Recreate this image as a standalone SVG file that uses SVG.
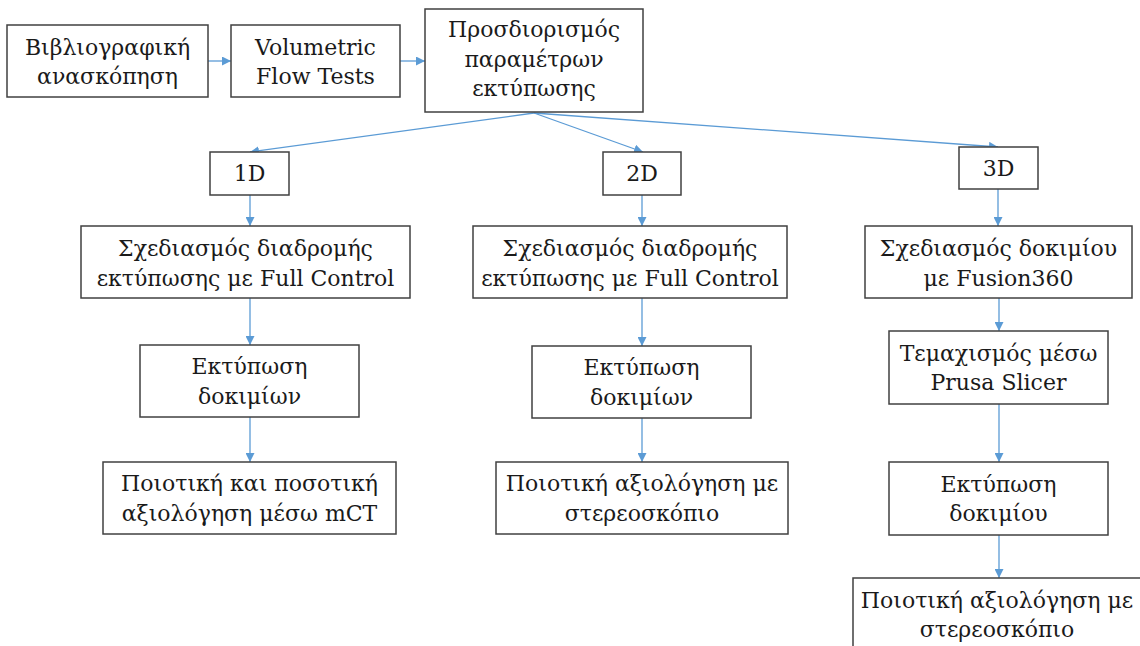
<svg xmlns="http://www.w3.org/2000/svg" width="1140" height="646" viewBox="0 0 1140 646">
<style>
.box{fill:#fff;stroke:#404040;stroke-width:1.5}
.t{font-family:"DejaVu Serif","Liberation Serif",serif;font-size:22px;fill:#1a1a1a;text-anchor:middle}
.c{stroke:#5B9BD5;stroke-width:1.3;fill:none;marker-end:url(#ah)}
</style>
<defs>
<marker id="ah" viewBox="0 0 10 10" refX="10" refY="5" markerWidth="9" markerHeight="9" markerUnits="userSpaceOnUse" orient="auto">
<path d="M0,0 L10,5 L0,10 z" fill="#5B9BD5"/>
</marker>
</defs>
<rect width="1140" height="646" fill="#fff"/>
<g id="connectors">
<line class="c" x1="208" y1="61" x2="231" y2="61"/>
<line class="c" x1="400" y1="61" x2="425" y2="61"/>
<line class="c" x1="534" y1="113" x2="250" y2="152"/>
<line class="c" x1="534" y1="113" x2="643" y2="152"/>
<line class="c" x1="534" y1="113" x2="998" y2="147"/>
<line class="c" x1="250" y1="195" x2="250" y2="226"/>
<line class="c" x1="250" y1="298" x2="250" y2="345"/>
<line class="c" x1="250" y1="417" x2="250" y2="462"/>
<line class="c" x1="642" y1="195" x2="642" y2="226"/>
<line class="c" x1="642" y1="298" x2="642" y2="346"/>
<line class="c" x1="642" y1="418" x2="642" y2="462"/>
<line class="c" x1="998" y1="189" x2="998" y2="226"/>
<line class="c" x1="999" y1="298" x2="999" y2="331"/>
<line class="c" x1="999" y1="404" x2="999" y2="462"/>
<line class="c" x1="999" y1="535" x2="999" y2="578"/>
</g>
<g id="n1"><rect class="box" x="7" y="25" width="201" height="72"/><text class="t" x="107.5" y="55">Βιβλιογραφική</text><text class="t" x="107.5" y="84">ανασκόπηση</text></g>
<g id="n2"><rect class="box" x="231" y="25" width="169" height="72"/><text class="t" x="315.5" y="55">Volumetric</text><text class="t" x="315.5" y="84">Flow Tests</text></g>
<g id="n3"><rect class="box" x="425" y="9" width="218" height="103"/><text class="t" x="534" y="37">Προσδιορισμός</text><text class="t" x="534" y="67">παραμέτρων</text><text class="t" x="534" y="96">εκτύπωσης</text></g>
<g id="n1d"><rect class="box" x="210" y="152" width="79" height="43"/><text class="t" x="249.5" y="181">1D</text></g>
<g id="n2d"><rect class="box" x="603" y="152" width="78" height="43"/><text class="t" x="642" y="181">2D</text></g>
<g id="n3d"><rect class="box" x="959" y="147" width="79" height="42"/><text class="t" x="998.5" y="176">3D</text></g>
<g id="a1"><rect class="box" x="81" y="226" width="329" height="72"/><text class="t" x="245.5" y="256">Σχεδιασμός διαδρομής</text><text class="t" x="245.5" y="286">εκτύπωσης με Full Control</text></g>
<g id="a2"><rect class="box" x="140" y="345" width="219" height="72"/><text class="t" x="249.5" y="374">Εκτύπωση</text><text class="t" x="249.5" y="404">δοκιμίων</text></g>
<g id="a3"><rect class="box" x="103" y="462" width="293" height="72"/><text class="t" x="249.5" y="491">Ποιοτική και ποσοτική</text><text class="t" x="249.5" y="521">αξιολόγηση μέσω mCT</text></g>
<g id="b1"><rect class="box" x="473" y="226" width="314" height="72"/><text class="t" x="630" y="256">Σχεδιασμός διαδρομής</text><text class="t" x="630" y="286">εκτύπωσης με Full Control</text></g>
<g id="b2"><rect class="box" x="532" y="346" width="219" height="72"/><text class="t" x="641.5" y="375">Εκτύπωση</text><text class="t" x="641.5" y="405">δοκιμίων</text></g>
<g id="b3"><rect class="box" x="496" y="462" width="292" height="72"/><text class="t" x="642" y="491">Ποιοτική αξιολόγηση με</text><text class="t" x="642" y="521">στερεοσκόπιο</text></g>
<g id="c1"><rect class="box" x="865" y="226" width="267" height="72"/><text class="t" x="998.5" y="256">Σχεδιασμός δοκιμίου</text><text class="t" x="998.5" y="286">με Fusion360</text></g>
<g id="c2"><rect class="box" x="889" y="331" width="219" height="73"/><text class="t" x="998.5" y="361">Τεμαχισμός μέσω</text><text class="t" x="998.5" y="390">Prusa Slicer</text></g>
<g id="c3"><rect class="box" x="889" y="462" width="219" height="73"/><text class="t" x="998.5" y="492">Εκτύπωση</text><text class="t" x="998.5" y="521">δοκιμίου</text></g>
<g id="c4"><rect class="box" x="853" y="578" width="300" height="80"/><text class="t" x="997" y="608">Ποιοτική αξιολόγηση με</text><text class="t" x="997" y="637">στερεοσκόπιο</text></g>
</svg>
